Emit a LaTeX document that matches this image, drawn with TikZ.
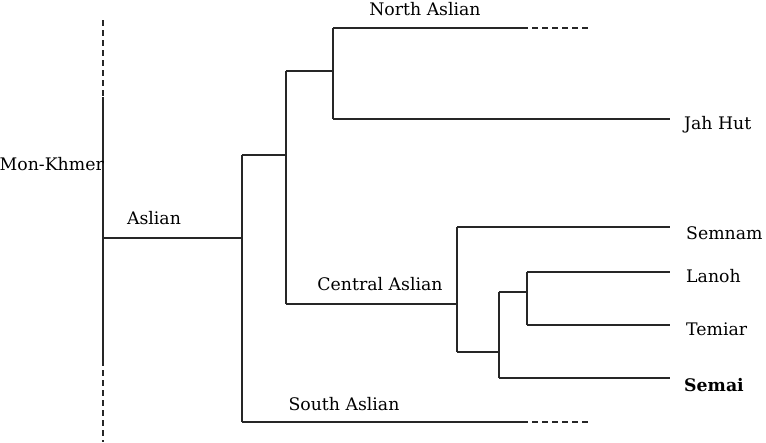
\documentclass[tikz,border=0pt]{standalone}
\usepackage{fontspec}
\setmainfont{DejaVu Serif}
\begin{document}
\begin{tikzpicture}[x=1pt,y=-1pt,
  br/.style={line width=1.3pt,draw=black!85},
  dsh/.style={line width=1.3pt,draw=black!85,dash pattern=on 6pt off 4pt},
  lbl/.style={inner sep=0pt,font=\fontsize{17.3}{19}\selectfont},
  leaf/.style={lbl,anchor=west}]
\useasboundingbox (0,0) rectangle (766,442);
% spine
\coordinate (mkt) at (103,20);
\coordinate (mks) at (103,97);
\coordinate (mke) at (103,360);
\coordinate (mkb) at (103,442);
\coordinate (as0) at (103,238);
\coordinate (as1) at (242,238);
\draw[dsh] (mkt) -- (mks);
\draw[br] (mks) -- (mke);
\draw[dsh] (mke) -- (mkb);
\node[lbl,anchor=east] (mk) at (104,164) {Mon-Khmer};
\draw[br] (as0) -- (as1);
\node[lbl] (asl) at (154,218) {Aslian};
% Aslian split
\coordinate (a1) at (242,155);
\coordinate (a2) at (242,422);
\draw[br] (a1) -- (a2);
\coordinate (b0) at (286,155);
\draw[br] (a1) -- (b0);
\coordinate (b1) at (286,71);
\coordinate (b2) at (286,304);
\draw[br] (b1) -- (b2);
% North Aslian
\coordinate (n0) at (333,71);
\draw[br] (b1) -- (n0);
\coordinate (n1) at (333,28);
\coordinate (n2) at (333,119);
\draw[br] (n1) -- (n2);
\coordinate (n1e) at (522,28);
\coordinate (n1d) at (590,28);
\draw[br] (n1) -- (n1e);
\draw[dsh] (n1e) -- (n1d);
\node[lbl] (na) at (425,9) {North Aslian};
\node[leaf] (jh) at (684,125) {Jah Hut};
\coordinate (jhe) at (670,119);
\draw[br] (n2) -- (jhe);
% Central Aslian
\coordinate (c0) at (457,304);
\draw[br] (b2) -- (c0);
\node[lbl] (ca) at (380,284) {Central Aslian};
\coordinate (c1) at (457,227);
\coordinate (c2) at (457,352);
\draw[br] (c1) -- (c2);
\node[leaf] (sn) at (686,233) {Semnam};
\coordinate (sne) at (670,227);
\draw[br] (c1) -- (sne);
\coordinate (d0) at (499,352);
\draw[br] (c2) -- (d0);
\coordinate (d1) at (499,292);
\coordinate (d2) at (499,378);
\draw[br] (d1) -- (d2);
\coordinate (e0) at (527,292);
\draw[br] (d1) -- (e0);
\coordinate (e1) at (527,272);
\coordinate (e2) at (527,325);
\draw[br] (e1) -- (e2);
\node[leaf] (ln) at (686,276) {Lanoh};
\coordinate (lne) at (670,272);
\draw[br] (e1) -- (lne);
\node[leaf] (tm) at (686,329) {Temiar};
\coordinate (tme) at (670,325);
\draw[br] (e2) -- (tme);
\node[leaf,font=\fontsize{17.3}{19}\selectfont\bfseries] (sm) at (684,385) {Semai};
\coordinate (sme) at (670,378);
\draw[br] (d2) -- (sme);
% South Aslian
\coordinate (s1e) at (522,422);
\coordinate (s1d) at (590,422);
\draw[br] (a2) -- (s1e);
\draw[dsh] (s1e) -- (s1d);
\node[lbl] (sa) at (344,404) {South Aslian};
\end{tikzpicture}
\end{document}
